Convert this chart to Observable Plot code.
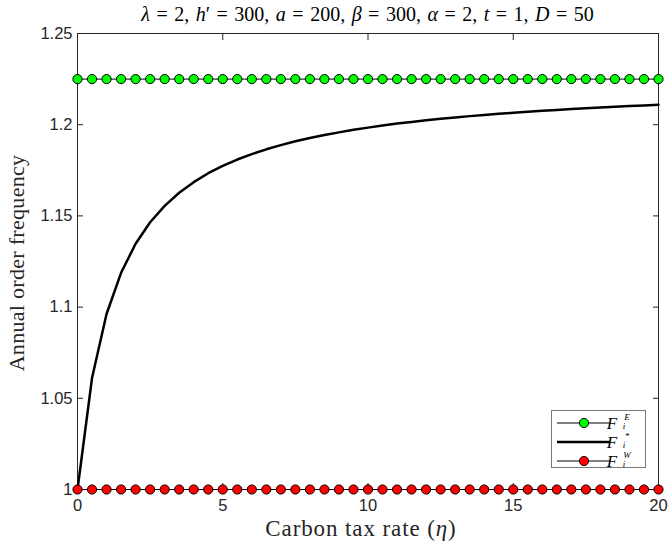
<!DOCTYPE html>
<html><head><meta charset="utf-8">
<script src="https://cdn.jsdelivr.net/npm/d3@7"></script>
<script src="https://cdn.jsdelivr.net/npm/@observablehq/plot@0.6"></script>
<style>body{margin:0;background:#fff;}#chart{width:668px;height:546px;}</style>
</head><body><div id="chart"></div>
<script>
// Carbon tax rate values (x)
const eta = [0,0.5,1,1.5,2,2.5,3,3.5,4,4.5,5,5.5,6,6.5,7,7.5,8,8.5,9,9.5,10,
             10.5,11,11.5,12,12.5,13,13.5,14,14.5,15,15.5,16,16.5,17,17.5,18,18.5,19,19.5,20];
// F_i^*
const fStar = [1.0000,1.0611,1.0962,1.1188,1.1347,1.1465,1.1555,1.1627,1.1685,1.1734,1.1774,
               1.1809,1.1839,1.1865,1.1888,1.1909,1.1927,1.1944,1.1958,1.1972,1.1984,
               1.1995,1.2006,1.2015,1.2024,1.2032,1.2040,1.2047,1.2053,1.2060,1.2065,
               1.2071,1.2076,1.2081,1.2086,1.2090,1.2094,1.2098,1.2102,1.2105,1.2109];
// F_i^E and F_i^W (constant)
const fE = [1.225,1.225,1.225,1.225,1.225,1.225,1.225,1.225,1.225,1.225,1.225,1.225,1.225,1.225,
            1.225,1.225,1.225,1.225,1.225,1.225,1.225,1.225,1.225,1.225,1.225,1.225,1.225,1.225,
            1.225,1.225,1.225,1.225,1.225,1.225,1.225,1.225,1.225,1.225,1.225,1.225,1.225];
const fW = [1,1,1,1,1,1,1,1,1,1,1,1,1,1,1,1,1,1,1,1,1,1,1,1,1,1,1,1,1,1,1,1,1,1,1,1,1,1,1,1,1];
const xTicks = [0,5,10,15,20];
const yTicks = [1,1.05,1.1,1.15,1.2,1.25];
const yTickLabels = ["1","1.05","1.1","1.15","1.2","1.25"];
const xLabel = "Carbon tax rate";
const yLabel = "Annual order frequency";
const legendItems = [
  {sup:"E", marker:"#00ff00"},
  {sup:"*", marker:null},
  {sup:"W", marker:"#ff0000"}
];
const titleParts = [["λ",1],[" = 2, ",0],["h",1],["′ = 300, ",0],["a",1],[" = 200, ",0],["β",1],
  [" = 300, ",0],["α",1],[" = 2, ",0],["t",1],[" = 1, ",0],["D",1],[" = 50",0]];

const dE = eta.map((x,i)=>({x, y:fE[i]}));
const dS = eta.map((x,i)=>({x, y:fStar[i]}));
const dW = eta.map((x,i)=>({x, y:fW[i]}));

const axCol = "#262626";
const tickFont = "'Liberation Sans', Arial, sans-serif";
const serif = "'Liberation Serif', 'DejaVu Serif', serif";

const plot = Plot.plot({
  width: 668, height: 546,
  marginLeft: 77, marginRight: 10, marginTop: 33, marginBottom: 57,
  x: {domain: [0, 20]},
  y: {domain: [1, 1.25]},
  style: {fontFamily: tickFont, fontSize: "16.5px", color: axCol, background: "#fff", overflow: "visible"},
  marks: [
    Plot.frame({stroke: axCol, strokeWidth: 1}),
    Plot.axisX(xTicks, {anchor: "bottom", tickSize: -6, tickPadding: 16, label: null, fontSize: 16.5}),
    Plot.axisX(xTicks, {anchor: "top", tickSize: -6, tickFormat: () => "", label: null}),
    Plot.axisY(yTicks, {anchor: "left", tickSize: -6, tickPadding: 11, label: null, fontSize: 16.5,
      tickFormat: (d) => yTickLabels[yTicks.indexOf(d)]}),
    Plot.axisY(yTicks, {anchor: "right", tickSize: -6, tickFormat: () => "", label: null}),
    Plot.line(dE, {x: "x", y: "y", stroke: "#000", strokeWidth: 1}),
    Plot.dot(dE, {x: "x", y: "y", r: 4.6, fill: "#00ff00", stroke: "#000", strokeWidth: 1}),
    Plot.line(dS, {x: "x", y: "y", stroke: "#000", strokeWidth: 2.5}),
    Plot.line(dW, {x: "x", y: "y", stroke: "#000", strokeWidth: 1}),
    Plot.dot(dW, {x: "x", y: "y", r: 4.6, fill: "#ff0000", stroke: "#000", strokeWidth: 1})
  ]
});
document.getElementById("chart").appendChild(plot);

const svg = d3.select(plot);
const cx = (77 + 658) / 2;

// Title
const title = svg.append("text").attr("x", cx).attr("y", 21)
  .attr("text-anchor", "middle").attr("font-family", serif).attr("font-size", 20)
  .attr("word-spacing", 1.5).attr("fill", "#000");
titleParts.forEach(([t, it]) => title.append("tspan").text(t).attr("font-style", it ? "italic" : "normal"));

// X label
const xl = svg.append("text").attr("x", 361).attr("y", 536).attr("text-anchor", "middle")
  .attr("font-family", serif).attr("font-size", 23).attr("letter-spacing", 0.9).attr("fill", axCol);
xl.append("tspan").text(xLabel + " (");
xl.append("tspan").text("η").attr("font-style", "italic");
xl.append("tspan").text(")");

// Y label
svg.append("text").attr("transform", "translate(24,263) rotate(-90)").attr("text-anchor", "middle")
  .attr("font-family", serif).attr("font-size", 22).attr("letter-spacing", 0.3).attr("fill", axCol).text(yLabel);

// Legend
const lg = svg.append("g");
lg.append("rect").attr("x", 551.5).attr("y", 410.5).attr("width", 94).attr("height", 57)
  .attr("fill", "#fff").attr("stroke", "#777").attr("stroke-width", 1);
legendItems.forEach((it, i) => {
  const y = 423 + i * 19;
  lg.append("line").attr("x1", 557).attr("x2", 610).attr("y1", y).attr("y2", y)
    .attr("stroke", "#000").attr("stroke-width", it.marker ? 1 : 2.5);
  if (it.marker) lg.append("circle").attr("cx", 584).attr("cy", y).attr("r", 4.6)
    .attr("fill", it.marker).attr("stroke", "#000").attr("stroke-width", 1);
  lg.append("text").attr("x", 612).attr("y", y + 6).attr("font-family", serif)
    .attr("font-style", "italic").attr("font-size", 17).attr("fill", "#000").text("F");
  lg.append("text").attr("x", 624).attr("y", y + 5.5).attr("font-family", serif)
    .attr("font-style", "italic").attr("font-size", 9).attr("fill", "#000").text("i");
  lg.append("text").attr("x", 627).attr("y", y - 3.5).attr("font-family", serif)
    .attr("font-style", "italic").attr("font-size", 9).attr("fill", "#000").text(it.sup);
});
</script>
</body></html>
